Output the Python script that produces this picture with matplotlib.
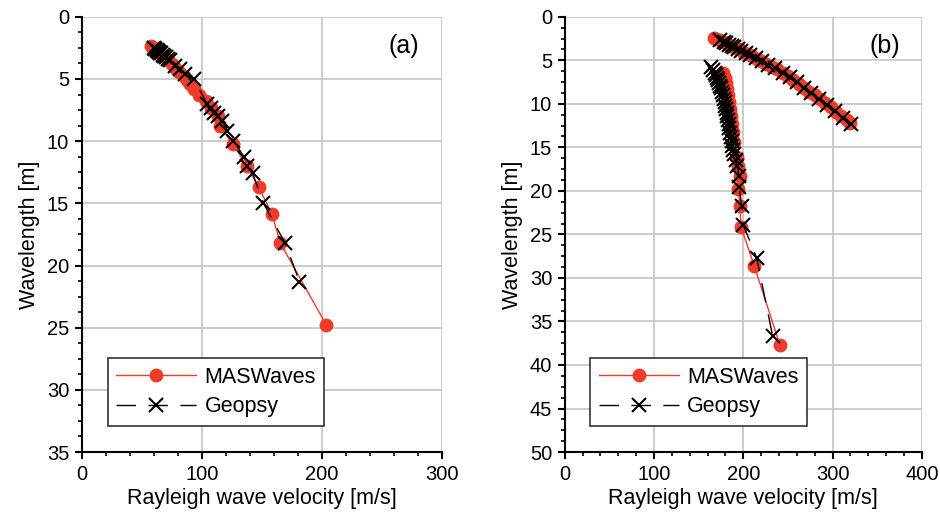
import matplotlib.pyplot as plt
from matplotlib.ticker import MultipleLocator

plt.rcParams['font.family'] = ['Liberation Sans', 'DejaVu Sans']

# --- (a) ---
mas_a_v = [57.5, 60, 62, 64.5, 67, 69.5, 72, 75, 78, 81.5, 85, 88, 90.5, 94, 98, 103.5,
           108, 113.5, 115, 126, 137.5, 147.5, 158.5, 165.5, 204]
mas_a_w = [2.35, 2.5, 2.65, 2.85, 3.05, 3.25, 3.5, 3.8, 4.1, 4.45, 4.8, 5.1, 5.4, 5.8, 6.25, 6.8,
           7.3, 8.0, 8.8, 10.2, 12.0, 13.7, 15.85, 18.2, 24.8]

geo_a_v = [60, 61.5, 62.5, 63.5, 64.5, 65.5, 66.5, 67.5, 69, 70.5, 72, 73.5, 78, 82, 86.5, 93.5,
           104.5, 107.5, 110, 113.5, 117, 121.5, 126.5, 135.5, 137.5, 142.5, 151.5, 169.5, 181.5]
geo_a_w = [2.5, 2.6, 2.65, 2.72, 2.8, 2.88, 2.95, 3.05, 3.15, 3.25, 3.4, 3.5, 3.93, 4.2, 4.6, 5.0,
           7.0, 7.3, 7.7, 7.95, 8.35, 9.15, 9.95, 11.3, 12.0, 12.6, 15.0, 18.2, 21.3]

# --- (b) ---
mas_b1_v = [167, 170, 174, 178, 182, 186, 190, 195, 200, 205, 210, 215, 220, 226, 232, 238,
            244, 250, 256, 262, 268, 274, 280, 286, 292, 298, 304, 310, 316, 320]
mas_b1_w = [2.4, 2.55, 2.7, 2.9, 3.1, 3.3, 3.5, 3.75, 4.0, 4.25, 4.5, 4.8, 5.1, 5.4, 5.75, 6.0,
            6.4, 6.8, 7.3, 7.7, 8.15, 8.6, 9.0, 9.5, 9.95, 10.4, 10.9, 11.4, 11.9, 12.2]
mas_b2_v = [177, 179, 181, 182, 183, 184, 185, 186, 187, 188, 190, 192.6, 194.4, 196.3, 194.4,
            196.3, 197.4, 212.3, 241]
mas_b2_w = [6.5, 7.0, 7.6, 8.3, 9.0, 9.8, 10.6, 11.4, 12.3, 13.2, 14.4, 16.1, 17.1, 18.3, 19.8,
            21.7, 24.1, 28.6, 37.7]

geo_b1_v = [174, 178, 181, 184, 187, 190, 194, 198, 203, 208, 214, 221, 228, 236, 244, 252,
            260, 268, 276, 285, 294, 303, 312, 321]
geo_b1_w = [2.7, 2.9, 3.05, 3.2, 3.35, 3.5, 3.7, 3.9, 4.15, 4.4, 4.75, 5.1, 5.5, 5.9, 6.4, 6.95,
            7.5, 8.15, 8.75, 9.45, 10.1, 10.8, 11.6, 12.3]
geo_b2_v = [164, 166, 168, 169.5, 171, 172, 173, 174, 175, 176, 177, 178, 179, 179.5, 180.5, 181.5,
            182, 183, 184, 184.5, 185.5, 186, 187, 187.5, 188.5, 190, 191.5, 193, 195.5, 195.5,
            198.2, 200, 215, 233]
geo_b2_w = [5.8, 6.1, 6.4, 6.7, 7.0, 7.3, 7.6, 7.9, 8.2, 8.6, 9.0, 9.4, 9.8, 10.2, 10.6, 11.0,
            11.4, 11.8, 12.3, 12.8, 13.3, 13.8, 14.3, 14.8, 15.3, 15.8, 16.4, 17.1, 18.3, 19.6,
            21.7, 23.9, 27.7, 36.7]

red = '#ee3b2a'
mas_style = dict(color=red, lw=1.0, marker='o', ms=10, mec='none', mfc=red)
geo_style = dict(color='black', lw=1.0, ls=(0, (14, 9)), marker='x', ms=10, mew=1.5)

fig = plt.figure(figsize=(9.4, 5.25), dpi=100)
ax1 = fig.add_axes([0.0869, 0.139, 0.383, 0.829])
ax2 = fig.add_axes([0.6007, 0.139, 0.380, 0.829])


def style_axes(ax, xmax, ymax, tag):
    ax.set_xlim(0, xmax)
    ax.set_ylim(ymax, 0)
    ax.xaxis.set_major_locator(MultipleLocator(100))
    ax.xaxis.set_minor_locator(MultipleLocator(20))
    ax.yaxis.set_major_locator(MultipleLocator(5))
    ax.yaxis.set_minor_locator(MultipleLocator(1.25))
    ax.grid(True, which='major', color='#c4c4c4', lw=1.2)
    ax.set_axisbelow(True)
    for s in ['top', 'right']:
        ax.spines[s].set_visible(False)
    for s in ['left', 'bottom']:
        ax.spines[s].set_linewidth(1.5)
    ax.tick_params(which='major', direction='out', length=5, width=1.5, labelsize=14.5, pad=4)
    ax.tick_params(which='minor', direction='out', length=3, width=1.2)
    ax.set_xlabel('Rayleigh wave velocity [m/s]', fontsize=15.5, labelpad=3)
    ax.set_ylabel('Wavelength [m]', fontsize=15.5, labelpad=5)
    ax.text(0.895, 0.932, tag, transform=ax.transAxes, fontsize=18, ha='center', va='center')


# (a)
ax1.plot(mas_a_v, mas_a_w, label='MASWaves', **mas_style)
ax1.plot(geo_a_v, geo_a_w, label='Geopsy', **geo_style)
style_axes(ax1, 300, 35, '(a)')

# (b)
ax2.plot(mas_b1_v, mas_b1_w, label='MASWaves', **mas_style)
ax2.plot(mas_b2_v, mas_b2_w, **mas_style)
ax2.plot(geo_b1_v, geo_b1_w, label='Geopsy', **geo_style)
ax2.plot(geo_b2_v, geo_b2_w, **geo_style)
style_axes(ax2, 400, 50, '(b)')

for ax in (ax1, ax2):
    leg = ax.legend(loc='lower left', bbox_to_anchor=(0.072, 0.06), borderaxespad=0,
                    fontsize=15.5, handlelength=3.7, handletextpad=0.4, fancybox=False,
                    framealpha=1, edgecolor='#333333', borderpad=0.4, labelspacing=0.4)
    leg.get_frame().set_linewidth(1.2)

fig.savefig('out.png', dpi=100)
